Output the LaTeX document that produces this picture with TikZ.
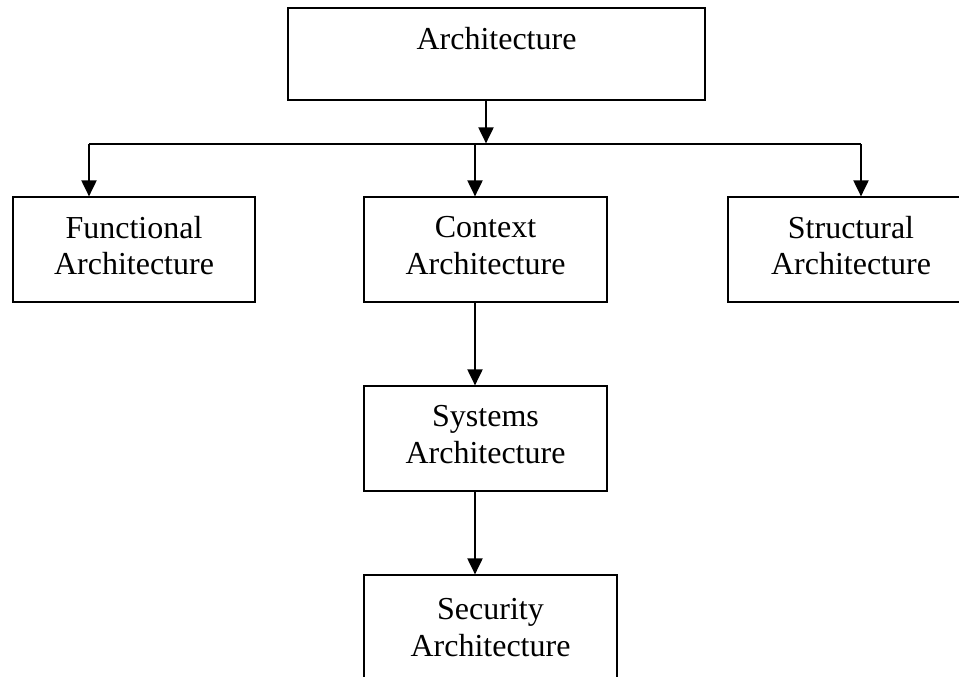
\documentclass[tikz,border=0pt]{standalone}
\usepackage{fontspec}
\setmainfont{Liberation Serif}
\usetikzlibrary{arrows.meta}

% extra depth under the last text line, to lift the text slightly in its box
\newcommand{\liftpad}{\rule[-8pt]{0pt}{8pt}}

\tikzset{
  box/.style={draw=black, line width=1.8pt, rectangle, align=center,
    inner sep=0pt, outer sep=0pt,
    font=\fontsize{32}{36.7}\selectfont},
  arr/.style={draw=black, line width=2pt,
    -{Triangle[width=15pt,length=16pt]}, shorten >=0.6pt},
  bus/.style={draw=black, line width=1.4pt}
}

\begin{document}
\begin{tikzpicture}[x=1pt, y=-1pt]
  \useasboundingbox (0,0) rectangle (959,677);
  \clip (0,0) rectangle (959,677);
  \fill[white] (0,0) rectangle (959,677);

  % boxes
  \node[box, minimum width=417pt, minimum height=92pt] (arch) at (496.5,54) {Architecture\\[-5pt]~};
  \node[box, minimum width=242pt, minimum height=105pt] (func) at (134,249.5) {Functional\\Architecture\liftpad};
  \node[box, minimum width=243pt, minimum height=105pt] (ctx) at (485.5,249.5) {Context\\Architecture\liftpad};
  \node[box, minimum width=246pt, minimum height=105pt] (struct) at (851,249.5) {Structural\\Architecture\liftpad};
  \node[box, minimum width=243pt, minimum height=105pt] (sys) at (485.5,438.5) {Systems\\Architecture\liftpad};
  \node[box, minimum width=253pt, minimum height=105pt] (sec) at (490.5,627.5) {Security\\Architecture};

  % distribution bus
  \coordinate (busL) at (89,144);
  \coordinate (busR) at (861,144);
  \coordinate (busA) at (486,144);
  \coordinate (busC) at (475,144);

  \draw[arr] (arch.south -| busA) -- (busA);
  \draw[bus] (busL) -- (busR);
  \draw[arr] (busL) -- (func.north -| busL);
  \draw[arr] (busC) -- (ctx.north -| busC);
  \draw[arr] (busR) -- (struct.north -| busR);
  \draw[arr] (ctx.south -| busC) -- (sys.north -| busC);
  \draw[arr] (sys.south -| busC) -- (sec.north -| busC);
\end{tikzpicture}
\end{document}
